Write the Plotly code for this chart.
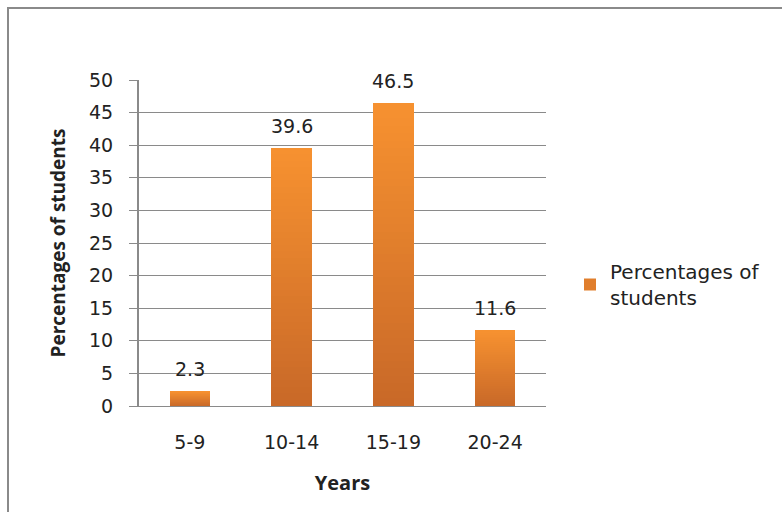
import plotly.graph_objects as go

# Share of students by age group
years = ["5-9", "10-14", "15-19", "20-24"]
percentages = [2.3, 39.6, 46.5, 11.6]
series_name = "Percentages of<br>students"

y_ticks = list(range(0, 55, 5))

# vertical shading of each bar: light orange at the top, deeper orange at the base
TOP = (247, 146, 48)
BOTTOM = (200, 104, 40)
N_STEPS = 40


def mix(t):
    r = [round(BOTTOM[i] + (TOP[i] - BOTTOM[i]) * t) for i in range(3)]
    return f"rgb({r[0]},{r[1]},{r[2]})"


fig = go.Figure()
for k in range(N_STEPS):
    t = (k + 0.5) / N_STEPS
    fig.add_trace(go.Bar(
        x=years,
        y=[v / N_STEPS for v in percentages],
        marker=dict(color=mix(t), line=dict(width=0)),
        name=series_name,
        showlegend=(k == N_STEPS // 2),
        hoverinfo="skip",
    ))

# value labels above the bars
for cat, val in zip(years, percentages):
    fig.add_annotation(
        x=cat, y=val, text=f"{val}", showarrow=False,
        yanchor="bottom", yshift=9,
        font=dict(family="DejaVu Sans", size=19, color="#222"),
    )

# outer chart frame
L, R, T, B = 139, 546, 80, 406
pw, ph = R - L, B - T
fig.add_shape(
    type="rect", xref="paper", yref="paper",
    x0=(8 - L) / pw, x1=(800 - L) / pw,
    y0=(B - 530) / ph, y1=(B - 8) / ph,
    line=dict(color="#8a8a8a", width=2), fillcolor="rgba(0,0,0,0)",
    layer="below",
)

fig.update_layout(
    width=782, height=512,
    margin=dict(l=L, r=782 - R, t=T, b=512 - B, autoexpand=False),
    paper_bgcolor="white", plot_bgcolor="white",
    barmode="stack", bargap=0.6,
    font=dict(family="DejaVu Sans", color="#222"),
    showlegend=True,
    legend=dict(
        x=(570 - L) / pw, y=(B - 252) / ph, xanchor="left", yanchor="top",
        font=dict(family="DejaVu Sans", size=20, color="#222"),
        bgcolor="rgba(0,0,0,0)", itemwidth=30,
    ),
    xaxis=dict(
        showgrid=False, showline=True, linecolor="#8a8a8a", linewidth=1,
        ticks="", tickfont=dict(size=19), ticklabelstandoff=19,
        title=dict(text="<b>Years</b>", font=dict(family="Open Sans", size=20), standoff=24),
    ),
    yaxis=dict(
        range=[0, 50], tickvals=y_ticks, showgrid=True, gridcolor="#8a8a8a", gridwidth=1,
        showline=True, linecolor="#8a8a8a", linewidth=2,
        ticks="outside", ticklen=8, tickcolor="#8a8a8a", tickwidth=1,
        tickfont=dict(size=19), ticklabelstandoff=12,
        zeroline=False,
        title=dict(text="<b>Percentages of students</b>", font=dict(family="Open Sans", size=19), standoff=18),
    ),
)

fig.write_html("out.html")
